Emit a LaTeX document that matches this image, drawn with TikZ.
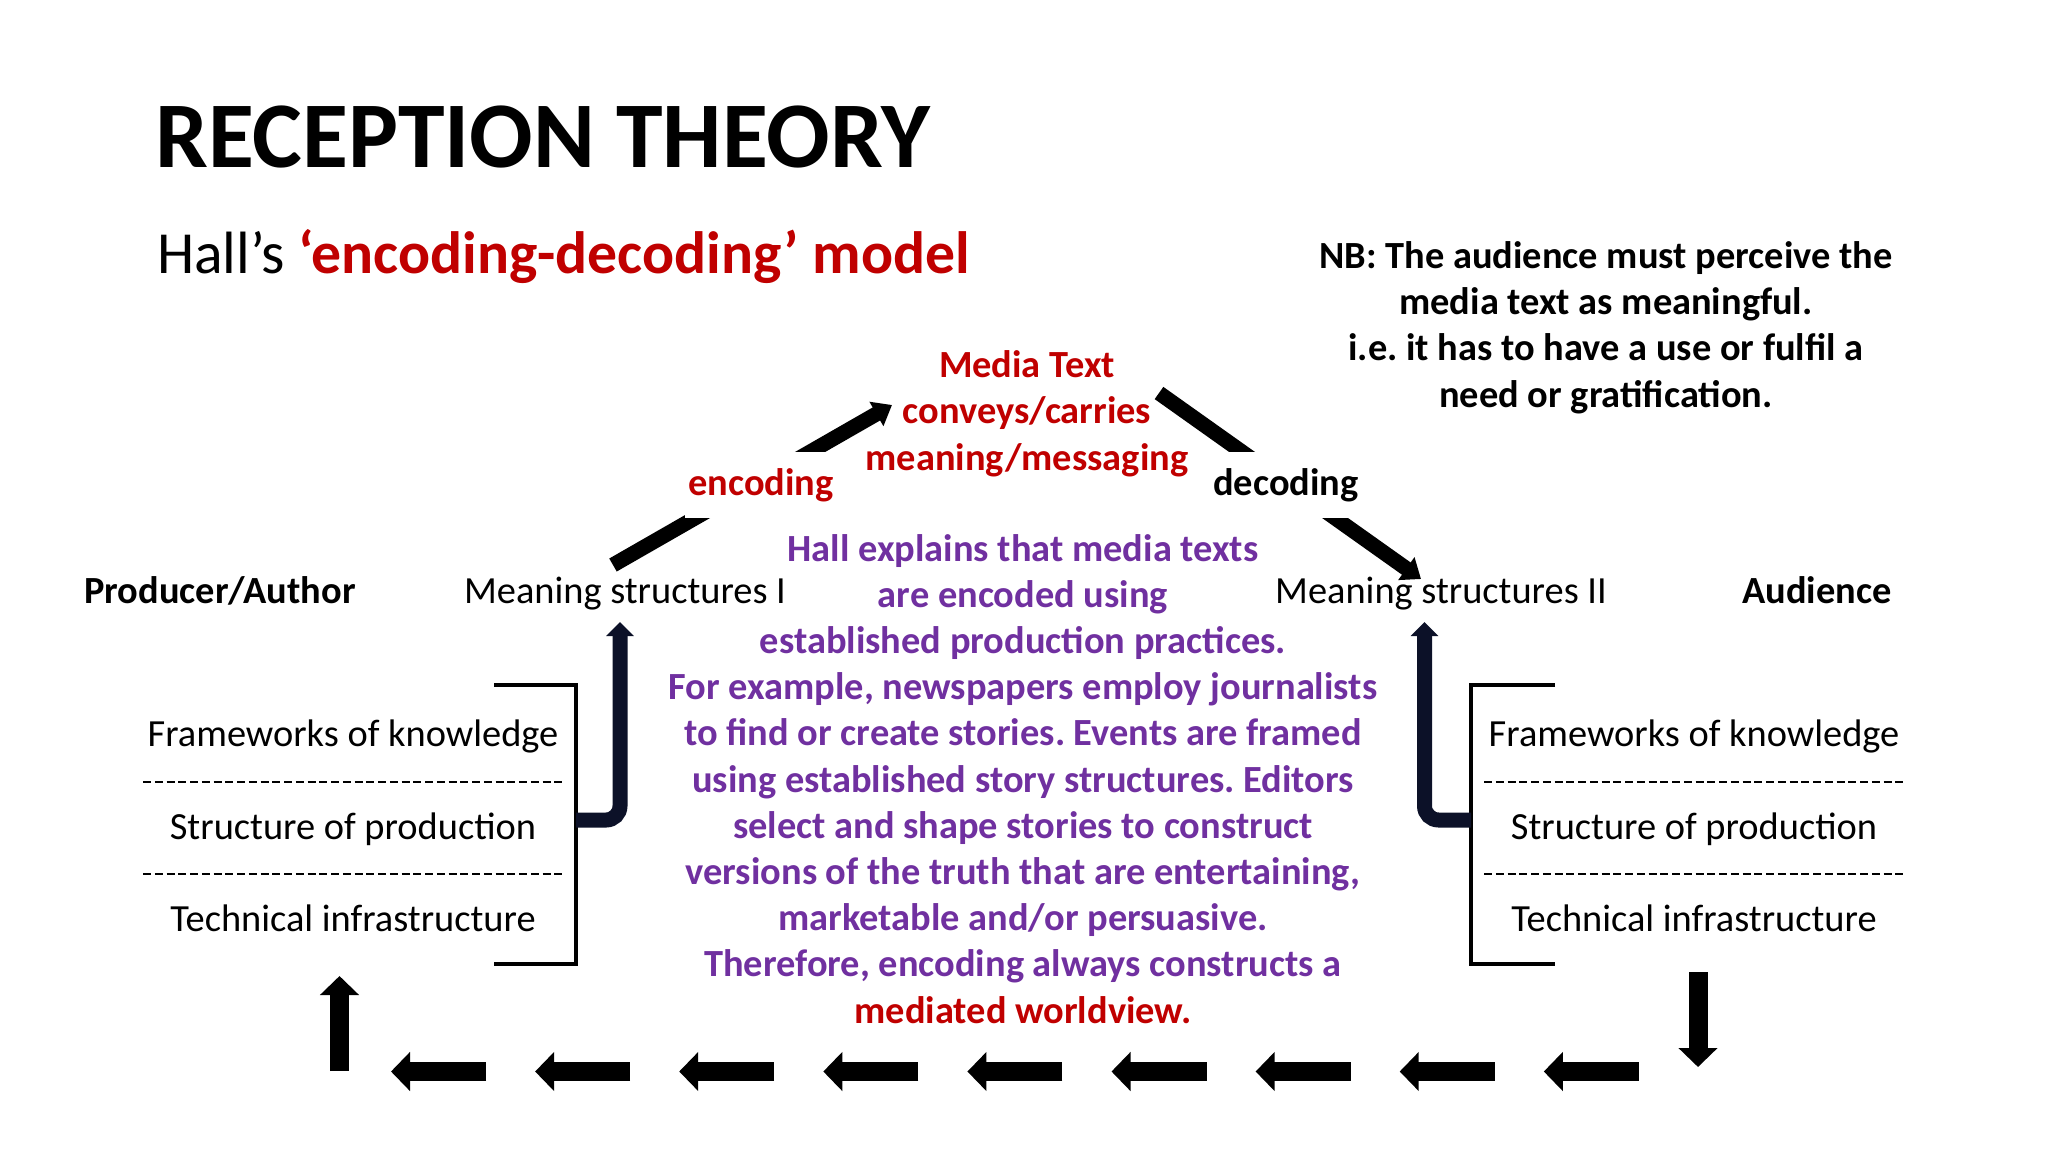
\documentclass[tikz,border=0pt]{standalone}
\usepackage{fontspec}
\setmainfont{Carlito}
\usetikzlibrary{arrows.meta}
\definecolor{hred}{RGB}{192,0,0}
\definecolor{hpurple}{RGB}{112,48,160}
\definecolor{hnavy}{RGB}{12,17,40}
\newcommand{\bodysize}{\fontsize{38.4}{46.2}\selectfont}
\frenchspacing
\begin{document}
\begin{tikzpicture}[x=1pt,y=-1pt,
  txt/.style={inner sep=0pt, font=\bodysize},
  bold/.style={inner sep=0pt, font=\bodysize\bfseries},
  gap/.style={fill=white, inner xsep=3pt, inner ysep=0pt, minimum height=66pt, anchor=center},
  flow/.style={line width=15pt, -{Triangle[width=27pt,length=18pt]}},
  rise/.style={draw=hnavy, line width=15pt, rounded corners=14pt, -{Triangle[width=27pt,length=14pt]}},
  bracket/.style={line width=3.5pt, line join=miter},
  dashline/.style={line width=2.3pt, dash pattern=on 8pt off 3.75pt},
  block/.style={line width=19pt, -{Triangle[width=38pt,length=19pt]}}
]
\useasboundingbox (0,0) rectangle (2048,1152);
\fill[white] (0,0) rectangle (2048,1152);

% titles
\node[inner sep=0pt, anchor=base west, font=\fontsize{94}{100}\selectfont\bfseries] (title) at (155,167) {RECEPTION THEORY};
\node[inner sep=0pt, anchor=base west, font=\fontsize{59.7}{70}\selectfont] (sub) at (157,273) {Hall’s \textcolor{hred}{\bfseries ‘encoding-decoding’ model}};

% NB note (anchor base = baseline of last line)
\node[bold, align=center, anchor=base] (nb) at (1606,407) {NB: The audience must perceive the\\ media text as meaningful.\\ i.e. it has to have a use or fulfil a\\ need or gratification.};

% media text
\node[bold, text=hred, align=center, anchor=base] (media) at (1027,470) {Media Text\\ conveys/carries\\ meaning/messaging};

% row of actors
\node[bold, anchor=base] (prod) at (220,603) {Producer/Author};
\node[txt, anchor=base] (ms1) at (625,603) {Meaning structures I};
\node[txt, anchor=base] (ms2) at (1441,603) {Meaning structures II};
\node[bold, anchor=base] (aud) at (1817,603) {Audience};

% purple explanation
\node[bold, text=hpurple, align=center, anchor=base] (hall) at (1023,1023) {Hall explains that media texts\\ are encoded using\\ established production practices.\\ For example, newspapers employ journalists\\ to find or create stories. Events are framed\\ using established story structures. Editors\\ select and shape stories to construct\\ versions of the truth that are entertaining,\\ marketable and/or persuasive.\\ Therefore, encoding always constructs a\\ \textcolor{hred}{mediated worldview.}};

% left structures
\node[txt, anchor=base] (fk1) at (353,746) {Frameworks of knowledge};
\node[txt, anchor=base] (sp1) at (353,839) {Structure of production};
\node[txt, anchor=base] (ti1) at (353,931) {Technical infrastructure};
\draw[dashline] (143,782) -- (564,782);
\draw[dashline] (143,874) -- (564,874);
\draw[bracket] (494,685) -- (576,685) -- (576,964) -- (494,964);

% right structures
\node[txt, anchor=base] (fk2) at (1694,746) {Frameworks of knowledge};
\node[txt, anchor=base] (sp2) at (1694,839) {Structure of production};
\node[txt, anchor=base] (ti2) at (1694,931) {Technical infrastructure};
\draw[dashline] (1484,782) -- (1905,782);
\draw[dashline] (1484,874) -- (1905,874);
\draw[bracket] (1555,685) -- (1471,685) -- (1471,964) -- (1555,964);

% connector end points
\coordinate (encA) at (613,565);
\coordinate (encB) at (892,405);
\coordinate (decA) at (1159,393);
\coordinate (decB) at (1421,579);
\coordinate (brL) at (576,820);
\coordinate (riseL) at (620,622);
\coordinate (brR) at (1471,820);
\coordinate (riseR) at (1424.5,622);

% encoding / decoding arrows
\draw[flow] (encA) -- (encB);
\draw[flow] (decA) -- (decB);
\node[bold, text=hred, gap] (enc) at (761,485) {encoding};
\node[bold, gap] (dec) at (1286,485) {decoding};

% rising arrows from the structures
\draw[rise] (brL) -| (riseL);
\draw[rise] (brR) -| (riseR);

% feedback loop along the bottom
\coordinate (downA) at (1698,972);
\coordinate (downB) at (1698,1067);
\coordinate (upA) at (339.5,1071);
\coordinate (upB) at (339.5,976);
\draw[block] (downA) -- (downB);
\draw[block] (upA) -- (upB);
\foreach \i in {0,...,8} {
  \coordinate (bt\i) at ({391+144.1*\i},1071.5);
  \draw[block] ([xshift=95pt]bt\i) -- (bt\i);
}
\end{tikzpicture}
\end{document}
